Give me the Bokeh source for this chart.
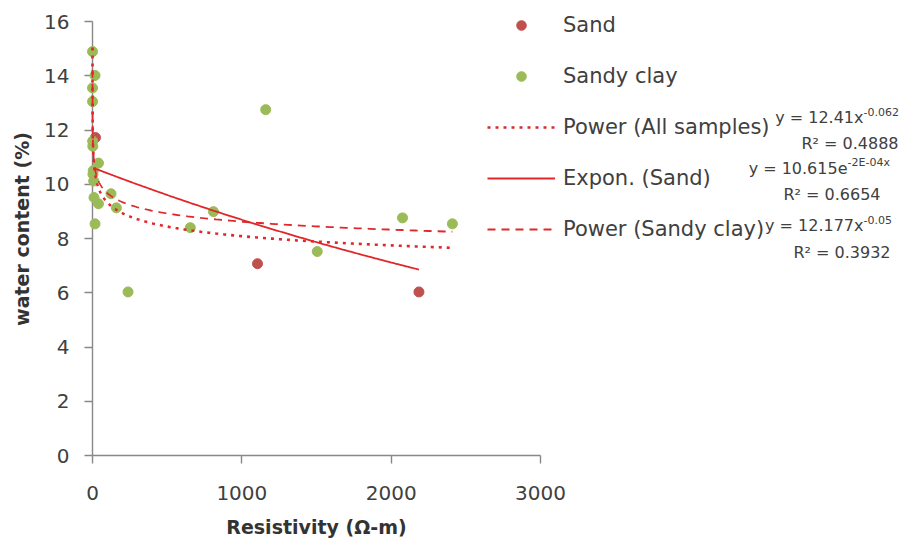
import numpy as np
from bokeh.plotting import figure
from bokeh.models import Range1d, FixedTicker, Legend, LegendItem
from bokeh.core.properties import value
from bokeh.embed import file_html
from bokeh.resources import INLINE

# ---- data ----
sand_x = [20, 1105, 2186]
sand_y = [11.72, 7.07, 6.03]

clay_x = [0.045, 17, 0.06, 0.3, 1, 2, 5, 3, 40, 8, 10, 40, 17,
          124, 160, 238, 655, 810, 1160, 1505, 2076, 2410]
clay_y = [14.89, 14.01, 13.55, 13.05, 11.59, 11.40, 10.50, 10.37, 10.78, 10.12,
          9.51, 9.28, 8.54, 9.65, 9.13, 6.03, 8.40, 8.99, 12.75, 7.52, 8.76, 8.54]

# trendline equations shown on the chart
all_coef, all_exp = 12.41, -0.062
sand_coef, sand_rate = 10.615, -2e-4
clay_coef, clay_exp = 12.177, -0.05

x_ticks = [0, 1000, 2000, 3000]
y_ticks = [0, 2, 4, 6, 8, 10, 12, 14, 16]

# ---- trend curves from the fitted equations ----
all_x = sand_x + clay_x
tx_all = np.geomspace(min(all_x), max(all_x), 500)
ty_all = all_coef * tx_all ** all_exp
tx_sand = np.linspace(min(sand_x), max(sand_x), 200)
ty_sand = sand_coef * np.exp(sand_rate * tx_sand)
tx_clay = np.geomspace(min(clay_x), max(clay_x), 500)
ty_clay = clay_coef * tx_clay ** clay_exp

SAND_C = "#C0504D"
CLAY_C = "#9BBB59"
TREND_C = "#E0282B"
TXT = "#404040"
TITLE_C = "#333333"
FONT = "DejaVu Sans"

# layout: axis 0..3000 spans 448 px, 0..16 spans 434 px; the plotting region
# continues to the right and above so that the legend and equations fit inside it
W, H = 910, 540
ML, MR, MT, MB = 92, 0, 2, 85
AXIS_TOP = 21
XPX = 448.0 / 3000.0
YPX = (H - AXIS_TOP - MB) / 16.0
x_end = (W - ML - MR) / XPX
y_end = 16 + (AXIS_TOP - MT) / YPX
FRAME_BOTTOM = H - MB

p = figure(width=W, height=H, x_range=Range1d(0, x_end), y_range=Range1d(0, y_end),
           output_backend="svg", toolbar_location=None,
           min_border_left=ML, min_border_right=MR, min_border_top=MT, min_border_bottom=MB)
p.outline_line_color = None
p.grid.visible = False

r_sand = p.scatter(sand_x, sand_y, size=10, fill_color=SAND_C, line_color=SAND_C, level="overlay")
r_clay = p.scatter(clay_x, clay_y, size=10, fill_color=CLAY_C, line_color=CLAY_C, level="overlay")
r_all = p.line(tx_all, ty_all, line_color=TREND_C, line_width=2.6, line_dash="3 5", level="overlay")
r_exp = p.line(tx_sand, ty_sand, line_color=TREND_C, line_width=1.8, level="overlay")
r_pc = p.line(tx_clay, ty_clay, line_color=TREND_C, line_width=1.8, line_dash="8 6", level="overlay")

for ax in (p.xaxis[0], p.yaxis[0]):
    ax.axis_line_color = "#888888"
    ax.axis_line_width = 1.4
    ax.major_tick_line_color = "#888888"
    ax.major_tick_line_width = 1.4
    ax.major_tick_in = 0
    ax.major_tick_out = 8
    ax.minor_tick_line_color = None
    ax.major_label_text_font = FONT
    ax.major_label_text_font_size = "20px"
    ax.major_label_text_color = TXT

p.xaxis.ticker = FixedTicker(ticks=x_ticks)
p.xaxis.bounds = (0, 3000)
p.yaxis.ticker = FixedTicker(ticks=y_ticks)
p.yaxis.bounds = (0, 16)
p.yaxis.major_label_standoff = 15
p.xaxis.major_label_standoff = 22
p.yaxis.axis_label = "water content (%)"
p.yaxis.axis_label_text_font = FONT
p.yaxis.axis_label_text_font_style = "bold"
p.yaxis.axis_label_text_font_size = "19px"
p.yaxis.axis_label_text_color = TITLE_C
p.yaxis.axis_label_standoff = 8

# helpers: picture px -> data units (for texts placed around the plot)
def dx(px):
    return (px - ML) / XPX
def dy(py):
    return (FRAME_BOTTOM - py) / YPX

p.text(x=[dx(316)], y=[dy(526)], text=["Resistivity (\u03a9-m)"], text_align="center",
       text_baseline="middle", text_font=value(FONT), text_font_style="bold",
       text_font_size="19px", text_color=TITLE_C, level="overlay")

legend = Legend(items=[
    LegendItem(label="Sand", renderers=[r_sand]),
    LegendItem(label="Sandy clay", renderers=[r_clay]),
    LegendItem(label="Power (All samples)", renderers=[r_all]),
    LegendItem(label="Expon. (Sand)", renderers=[r_exp]),
    LegendItem(label="Power (Sandy clay)", renderers=[r_pc]),
], location=(395, 214))
legend.padding = 0
legend.margin = 0
legend.border_line_alpha = 0
legend.background_fill_alpha = 0
legend.glyph_width = 68
legend.glyph_height = 24
legend.label_height = 24
legend.spacing = 27
legend.label_standoff = 8
legend.label_text_font = FONT
legend.label_text_font_size = "21px"
legend.label_text_color = TXT
p.add_layout(legend, "center")

eq_main = ["y = 12.41x", "y = 10.615e", "y = 12.177x"]
eq_sup = ["-0.062", "-2E-04x", "-0.05"]
eq_r2 = ["R\u00b2 = 0.4888", "R\u00b2 = 0.6654", "R\u00b2 = 0.3932"]
main_px = [863, 847, 863]
main_py = [117, 168, 225]
r2_px = [898, 880, 890]
r2_py = [143, 194, 252]

p.text(x=[dx(v) for v in main_px], y=[dy(v) for v in main_py], text=eq_main,
       text_align="right", text_baseline="middle", text_font=value(FONT),
       text_font_size="16px", text_color=TXT, level="overlay")
p.text(x=[dx(v) for v in main_px], y=[dy(v - 6) for v in main_py], text=eq_sup,
       text_align="left", text_baseline="middle", text_font=value(FONT),
       text_font_size="11px", text_color=TXT, level="overlay")
p.text(x=[dx(v) for v in r2_px], y=[dy(v) for v in r2_py], text=eq_r2,
       text_align="right", text_baseline="middle", text_font=value(FONT),
       text_font_size="16px", text_color=TXT, level="overlay")

open("out.html", "w").write(file_html(p, INLINE))
